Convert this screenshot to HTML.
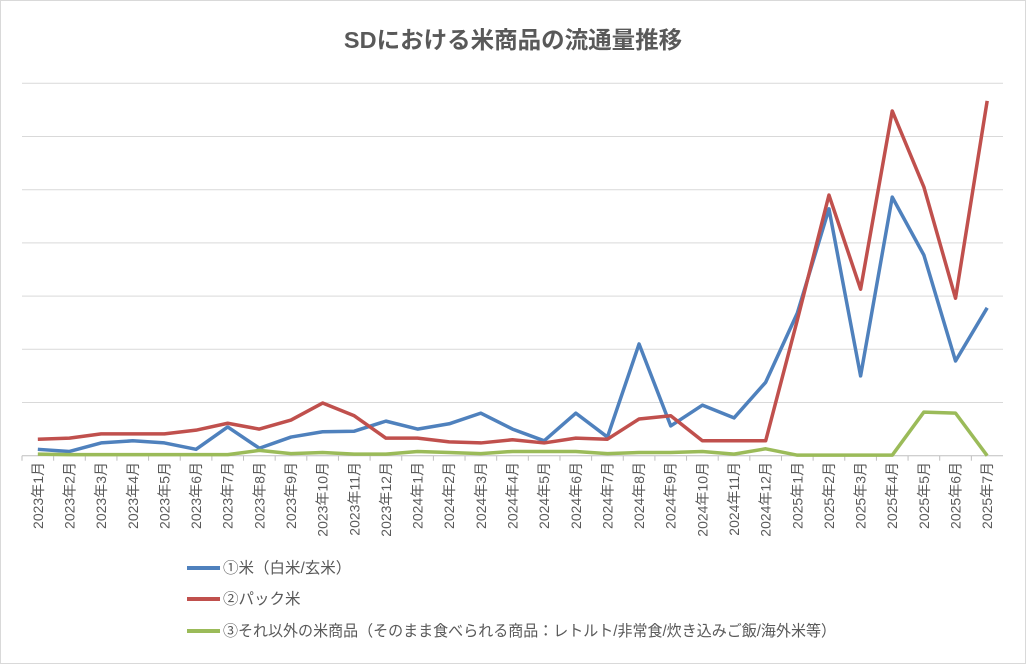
<!DOCTYPE html>
<html><head><meta charset="utf-8"><style>
body{margin:0;background:#fff}
svg{display:block;font-family:"Liberation Sans","Noto Sans CJK JP",sans-serif}
</style></head><body>
<svg id="c" width="1026" height="664">
<rect x="0.5" y="0.5" width="1025" height="663" fill="#fff" stroke="#d9d9d9"/>
<text x="513" y="48" text-anchor="middle" font-size="23.5" font-weight="bold" fill="#595959">SDにおける米商品の流通量推移</text>
<g id="grid"></g><g id="xl"></g><g id="series"></g>
<g>
<g><line x1="187" y1="568" x2="220" y2="568" stroke="#4f81bd" stroke-width="4"/><text x="223" y="573" font-size="15.5" fill="#595959">①米（白米/玄米）</text></g>
<g><line x1="187" y1="599" x2="220" y2="599" stroke="#c0504d" stroke-width="4"/><text x="223" y="604" font-size="15.5" fill="#595959">②パック米</text></g>
<g><line x1="187" y1="631" x2="220" y2="631" stroke="#9bbb59" stroke-width="4"/><text x="223" y="636" font-size="15.5" fill="#595959" textLength="613" lengthAdjust="spacingAndGlyphs">③それ以外の米商品（そのまま食べられる商品：レトルト/非常食/炊き込みご飯/海外米等）</text></g>
</g>
</svg>
<script>
const categories=[];
for(const y of [2023,2024,2025]){for(let m=1;m<=12;m++){if(y===2025&&m>7)break;categories.push(y+"年"+m+"月");}}
const riceValues=[0.12,0.08,0.24,0.28,0.24,0.12,0.54,0.14,0.35,0.45,0.46,0.65,0.5,0.6,0.8,0.5,0.28,0.8,0.35,2.1,0.56,0.95,0.71,1.38,2.68,4.64,1.5,4.86,3.77,1.78,2.78];
const packValues=[0.31,0.33,0.41,0.41,0.41,0.48,0.61,0.5,0.67,0.99,0.75,0.33,0.33,0.26,0.24,0.3,0.24,0.33,0.31,0.69,0.75,0.28,0.28,0.28,2.55,4.9,3.13,6.48,5.05,2.96,6.67];
const otherValues=[0.03,0.02,0.02,0.02,0.02,0.02,0.02,0.1,0.04,0.06,0.03,0.03,0.08,0.06,0.04,0.08,0.08,0.08,0.04,0.06,0.06,0.08,0.03,0.13,0.01,0.01,0.01,0.01,0.82,0.8,0.0];
const yTicks=[0,1,2,3,4,5,6,7];
const NS="http://www.w3.org/2000/svg";
const L=22,R=1003,B=455.7,U=53.2;
const step=(R-L)/categories.length;
const xs=i=>L+step*(i+0.5);
const ys=v=>B-v*U;
function mk(t,a,p){const e=document.createElementNS(NS,t);for(const k in a)e.setAttribute(k,a[k]);p.appendChild(e);return e;}
const grid=document.getElementById('grid');
yTicks.forEach(t=>{const l=mk('line',{x1:L,x2:R,y1:ys(t),y2:ys(t),stroke:t===0?'#bfbfbf':'#d9d9d9','stroke-width':1},grid);

});
const xl=document.getElementById('xl');
categories.forEach((c,i)=>{
const tk=mk('line',{x1:L+step*i,x2:L+step*i,y1:B,y2:B+5,stroke:'#bfbfbf'},xl);


const t=mk('text',{x:0,y:0,transform:`translate(${xs(i)+5},462) rotate(-90)`,'text-anchor':'end','font-size':14,fill:'#595959'},xl);
t.textContent=c;

});
const sg=document.getElementById('series');
[[riceValues,'#4f81bd','series-rice'],[packValues,'#c0504d','series-pack-rice'],[otherValues,'#9bbb59','series-other']].forEach(([vals,col,name])=>{
const p=mk('polyline',{points:vals.map((v,i)=>xs(i)+','+ys(v)).join(' '),fill:'none',stroke:col,'stroke-width':3.5,'stroke-linejoin':'round'},sg);

});
</script>
</body></html>
